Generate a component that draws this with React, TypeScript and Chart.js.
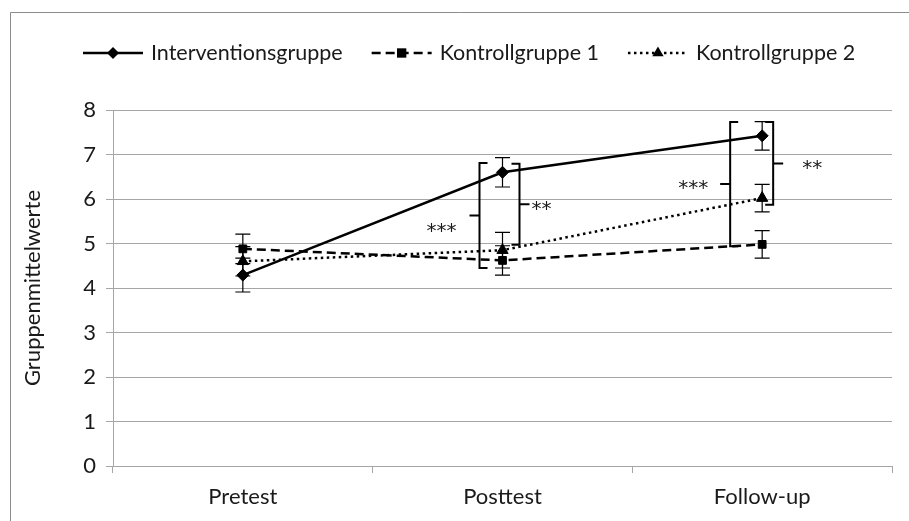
import React, { useEffect, useRef } from "react";
import { Chart, registerables } from "chart.js";

Chart.register(...registerables);

const categories = ["Pretest", "Posttest", "Follow-up"];
const seriesNames = ["Interventionsgruppe", "Kontrollgruppe 1", "Kontrollgruppe 2"];
const interventionMeans = [4.29, 6.6, 7.42];
const kontroll1Means = [4.88, 4.62, 4.98];
const kontroll2Means = [4.6, 4.85, 6.02];
const interventionErr = [0.38, 0.33, 0.32];
const kontroll1Err = [0.33, 0.33, 0.31];
const kontroll2Err = [0.33, 0.4, 0.31];
const yMin = 0;
const yMax = 8;
const yStep = 1;

// significance brackets
const bracketCategory = [1, 1, 2, 2];
const bracketTop = [6.81, 6.79, 7.73, 7.73];
const bracketBottom = [4.45, 4.97, 4.94, 5.87];
const bracketLabels = ["***", "**", "***", "**"];

// styling for brackets (pixels, not data)
const bracketStyle = [
  { dx: -23, side: "left", labelDx: -13, labelDy: 11 },
  { dx: 17, side: "right", labelDx: 2, labelDy: 0 },
  { dx: -32, side: "left", labelDx: -12, labelDy: -1 },
  { dx: 11, side: "right", labelDx: 19, labelDy: 0 },
];

const FONT = "Lato, 'Open Sans', sans-serif";
const STAR_FONT = "'DejaVu Sans', sans-serif";
const FONT_SIZE = 22;
const LEGEND_FONT_SIZE = 21.5;
const TEXT = "#1a1a1a";
const GRID = "#a6a6a6";

const seriesMeans = [interventionMeans, kontroll1Means, kontroll2Means];
const seriesErr = [interventionErr, kontroll1Err, kontroll2Err];
const seriesDash: number[][] = [[], [9, 5], [2.5, 3.5]];
const seriesPoint = ["rectRot", "rect", "triangle"];
const seriesRadius = [6, 5.5, 6.5];

const framePlugin = {
  id: "frame",
  beforeDraw(chart: any) {
    const ctx = chart.ctx;
    ctx.save();
    ctx.fillStyle = "#fff";
    ctx.fillRect(0, 0, chart.width, chart.height);
    ctx.strokeStyle = "#8c8c8c";
    ctx.lineWidth = 1;
    ctx.beginPath();
    ctx.moveTo(10.5, chart.height);
    ctx.lineTo(10.5, 12.5);
    ctx.lineTo(chart.width, 12.5);
    ctx.stroke();
    ctx.restore();
  },
};

const errorBarPlugin = {
  id: "errorBars",
  afterDatasetsDraw(chart: any) {
    const ctx = chart.ctx;
    const xs = chart.scales.x;
    const ys = chart.scales.y;
    ctx.save();
    ctx.strokeStyle = "#000";
    ctx.lineWidth = 1.2;
    seriesMeans.forEach((means, si) => {
      means.forEach((m, i) => {
        const e = seriesErr[si][i];
        const x = xs.getPixelForValue(i);
        const y1 = ys.getPixelForValue(m + e);
        const y2 = ys.getPixelForValue(m - e);
        ctx.beginPath();
        ctx.moveTo(x, y1);
        ctx.lineTo(x, y2);
        ctx.moveTo(x - 7.5, y1);
        ctx.lineTo(x + 7.5, y1);
        ctx.moveTo(x - 7.5, y2);
        ctx.lineTo(x + 7.5, y2);
        ctx.stroke();
      });
    });
    ctx.restore();
  },
};

const bracketPlugin = {
  id: "brackets",
  afterDatasetsDraw(chart: any) {
    const ctx = chart.ctx;
    const xs = chart.scales.x;
    const ys = chart.scales.y;
    ctx.save();
    ctx.strokeStyle = "#000";
    ctx.fillStyle = TEXT;
    ctx.lineWidth = 2;
    const starSize = 20;
    ctx.font = `${starSize}px ${STAR_FONT}`;
    bracketCategory.forEach((c, i) => {
      const st = bracketStyle[i];
      const x = xs.getPixelForValue(c) + st.dx;
      const yt = ys.getPixelForValue(bracketTop[i]);
      const yb = ys.getPixelForValue(bracketBottom[i]);
      const ym = (yt + yb) / 2;
      const dir = st.side === "left" ? 1 : -1;
      ctx.beginPath();
      ctx.moveTo(x + dir * 8, yt);
      ctx.lineTo(x, yt);
      ctx.lineTo(x, yb);
      ctx.lineTo(x + dir * 8, yb);
      ctx.moveTo(x, ym);
      ctx.lineTo(x - dir * 10, ym);
      ctx.stroke();
      ctx.textBaseline = "alphabetic";
      ctx.textAlign = st.side === "left" ? "right" : "left";
      ctx.fillText(bracketLabels[i], x - dir * 10 + st.labelDx, ym + st.labelDy + starSize * 0.55);
    });
    ctx.restore();
  },
};

function drawMarker(ctx: CanvasRenderingContext2D, style: string, x: number, y: number, r: number) {
  ctx.beginPath();
  if (style === "rectRot") {
    ctx.moveTo(x, y - r);
    ctx.lineTo(x + r, y);
    ctx.lineTo(x, y + r);
    ctx.lineTo(x - r, y);
  } else if (style === "rect") {
    const s = r * 0.85;
    ctx.rect(x - s, y - s, 2 * s, 2 * s);
  } else {
    ctx.moveTo(x, y - r);
    ctx.lineTo(x + r * 0.87, y + r * 0.5);
    ctx.lineTo(x - r * 0.87, y + r * 0.5);
  }
  ctx.closePath();
  ctx.fill();
}

const legendPlugin = {
  id: "customLegend",
  afterDraw(chart: any) {
    const ctx = chart.ctx;
    ctx.save();
    ctx.font = `${LEGEND_FONT_SIZE}px ${FONT}`;
    ctx.textBaseline = "middle";
    ctx.textAlign = "left";
    const y = 53;
    let x = 83;
    const symW = 60;
    chart.data.datasets.forEach((ds: any, i: number) => {
      ctx.strokeStyle = "#000";
      ctx.fillStyle = "#000";
      ctx.lineWidth = 2.5;
      ctx.setLineDash(seriesDash[i]);
      ctx.beginPath();
      ctx.moveTo(x, y);
      ctx.lineTo(x + symW, y);
      ctx.stroke();
      ctx.setLineDash([]);
      drawMarker(ctx, seriesPoint[i], x + symW / 2, y, seriesRadius[i]);
      ctx.fillStyle = TEXT;
      ctx.fillText(ds.label, x + symW + 8, y);
      const w = ctx.measureText(ds.label).width;
      x += symW + 8 + w + 29;
    });
    ctx.restore();
  },
};

export default function App() {
  const ref = useRef<HTMLCanvasElement | null>(null);
  useEffect(() => {
    if (!ref.current) return;
    const chart = new Chart(ref.current, {
      type: "line",
      data: {
        labels: categories,
        datasets: seriesMeans.map((m, i) => ({
          label: seriesNames[i],
          data: m,
          borderColor: "#000",
          backgroundColor: "#000",
          borderWidth: 2.5,
          borderDash: seriesDash[i],
          pointStyle: seriesPoint[i] as any,
          pointRadius: seriesRadius[i],
          pointBackgroundColor: "#000",
          pointBorderColor: "#000",
          pointBorderWidth: 1,
          tension: 0,
          fill: false,
        })),
      },
      options: {
        animation: false,
        responsive: false,
        devicePixelRatio: 1,
        layout: { padding: { top: 110, right: 17, left: 0, bottom: 0 } },
        plugins: {
          legend: { display: false },
          tooltip: { enabled: false },
        },
        scales: {
          x: {
            offset: true,
            grid: {
              offset: true,
              drawOnChartArea: false,
              drawTicks: true,
              tickLength: 7,
              color: GRID,
            },
            border: { color: GRID },
            ticks: { font: { family: FONT, size: FONT_SIZE }, color: TEXT, padding: 11 },
            afterFit: (s: any) => {
              s.height = 55;
            },
          },
          y: {
            min: yMin,
            max: yMax,
            ticks: {
              stepSize: yStep,
              font: { family: FONT, size: FONT_SIZE },
              color: TEXT,
              padding: 10,
            },
            grid: { color: GRID, tickLength: 7 },
            border: { color: GRID },
            title: {
              display: true,
              text: "Gruppenmittelwerte",
              font: { family: FONT, size: FONT_SIZE },
              color: TEXT,
              padding: { top: 20, bottom: 0 },
            },
            afterFit: (s: any) => {
              s.width = 113;
            },
          },
        },
      },
      plugins: [framePlugin, errorBarPlugin, bracketPlugin, legendPlugin],
    });
    return () => chart.destroy();
  }, []);
  return (
    <div style={{ position: "absolute", left: 0, top: 0, width: 909, height: 521 }}>
      <canvas ref={ref} width={909} height={521} />
    </div>
  );
}
